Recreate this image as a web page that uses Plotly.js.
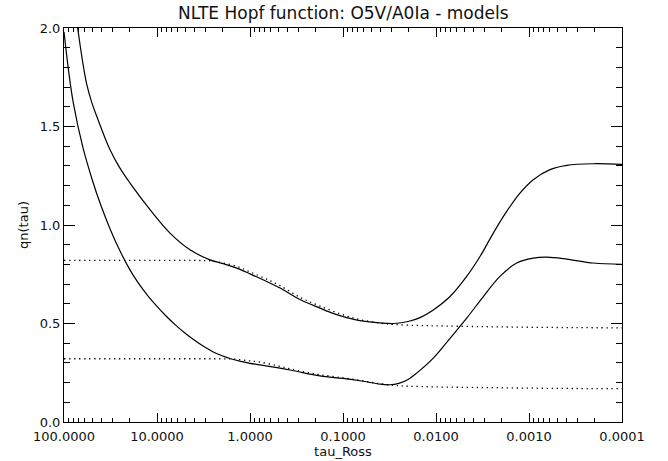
<!DOCTYPE html>
<html>
<head>
<meta charset="utf-8">
<script src="https://cdn.plot.ly/plotly-3.0.1.min.js"></script>
<style>html,body{margin:0;padding:0;background:#fff;}#chart{width:668px;height:461px;}</style>
</head>
<body>
<div id="chart"></div>
<script>
// log10(tau_Ross) and qn(tau)
const upperSolidLogTau = [1.853, 1.800, 1.756, 1.700, 1.648, 1.505, 1.400, 1.290, 1.075, 0.860, 0.645, 0.430, 0.300, 0.143, 0.000, -0.180, -0.323, -0.538, -0.753, -0.900, -1.040, -1.200, -1.398, -1.550, -1.700, -1.828, -1.971, -2.151, -2.330, -2.473, -2.616, -2.760, -2.903, -3.046, -3.226, -3.405, -3.692, -4.000];
const upperSolidQ      = [2.000, 1.830, 1.715, 1.620, 1.552, 1.382, 1.290, 1.213, 1.078, 0.959, 0.874, 0.823, 0.805, 0.781, 0.752, 0.713, 0.680, 0.622, 0.578, 0.550, 0.530, 0.513, 0.503, 0.500, 0.510, 0.530, 0.569, 0.637, 0.739, 0.840, 0.959, 1.069, 1.162, 1.230, 1.281, 1.303, 1.311, 1.308];

const lowerSolidLogTau = [2.00, 1.95, 1.90, 1.80, 1.70, 1.60, 1.50, 1.40, 1.30, 1.20, 1.10, 1.00, 0.90, 0.80, 0.70, 0.60, 0.50, 0.40, 0.30, 0.20, 0.10, 0.00, -0.108, -0.430, -0.753, -1.000, -1.200, -1.400, -1.500, -1.600, -1.700, -1.792, -1.971, -2.151, -2.330, -2.509, -2.688, -2.867, -3.046, -3.190, -3.405, -3.692, -4.000];
const lowerSolidQ      = [1.980, 1.780, 1.620, 1.400, 1.235, 1.095, 0.975, 0.870, 0.780, 0.705, 0.642, 0.587, 0.537, 0.492, 0.452, 0.416, 0.384, 0.357, 0.336, 0.320, 0.308, 0.298, 0.290, 0.264, 0.234, 0.221, 0.208, 0.192, 0.189, 0.196, 0.216, 0.248, 0.324, 0.425, 0.527, 0.637, 0.739, 0.807, 0.832, 0.837, 0.827, 0.807, 0.800];

const upperDotLogTau = [2.0, 1.5, 1.0, 0.6, 0.43, 0.30, 0.143, 0.0, -0.18, -0.323, -0.538, -0.753, -1.04, -1.2, -1.4, -1.55, -1.8, -2.0, -2.5, -3.0, -3.5, -4.0];
const upperDotQ      = [0.820, 0.820, 0.820, 0.820, 0.818, 0.808, 0.790, 0.762, 0.725, 0.692, 0.633, 0.588, 0.538, 0.518, 0.502, 0.495, 0.490, 0.488, 0.484, 0.481, 0.479, 0.478];

const lowerDotLogTau = [2.0, 1.5, 1.0, 0.5, 0.3, 0.2, 0.1, 0.0, -0.108, -0.3, -0.43, -0.6, -0.753, -1.0, -1.2, -1.4, -1.55, -1.7, -2.0, -2.5, -3.0, -3.5, -4.0];
const lowerDotQ      = [0.321, 0.321, 0.321, 0.321, 0.321, 0.320, 0.316, 0.310, 0.304, 0.285, 0.270, 0.253, 0.240, 0.224, 0.210, 0.194, 0.186, 0.182, 0.178, 0.175, 0.172, 0.170, 0.169];

const xTickVals  = [100, 10, 1, 0.1, 0.01, 0.001, 0.0001];
const xTickText  = ['100.0000', '10.0000', '1.0000', '0.1000', '0.0100', '0.0010', '0.0001'];
const xMinorDigits = [2, 3, 4, 5, 6, 7, 8, 9];
const yTickVals  = [0.0, 0.5, 1.0, 1.5, 2.0];
const yTickText  = ['0.0', '0.5', '1.0', '1.5', '2.0'];

const toTau = a => a.map(v => Math.pow(10, v));
const xMinorVals = [];
for (let e = -4; e < 2; e++) for (const d of xMinorDigits) xMinorVals.push(d * Math.pow(10, e));

const solid = {color: '#000', width: 1.2, shape: 'spline', smoothing: 1};
const dotted = {color: '#000', width: 1.3, dash: '1.3px,3.7px', shape: 'spline', smoothing: 1};

const traces = [
  {x: toTau(upperDotLogTau), y: upperDotQ, mode: 'lines', line: dotted},
  {x: toTau(lowerDotLogTau), y: lowerDotQ, mode: 'lines', line: dotted},
  {x: toTau(upperSolidLogTau), y: upperSolidQ, mode: 'lines', line: solid},
  {x: toTau(lowerSolidLogTau), y: lowerSolidQ, mode: 'lines', line: solid}
];

const font = {family: 'DejaVu Sans, sans-serif', size: 13, color: '#111'};

const layout = {
  width: 668, height: 461,
  margin: {l: 64, r: 46, t: 28, b: 39, pad: 0},
  paper_bgcolor: '#fff', plot_bgcolor: '#fff',
  showlegend: false,
  font: font,
  title: {text: 'NLTE Hopf function: O5V/A0Ia - models', x: 0.514, xanchor: 'center', y: 0.971, yanchor: 'middle', yref: 'container', font: {family: 'DejaVu Sans, sans-serif', size: 17, color: '#111'}},
  xaxis: {
    type: 'log', range: [2, -4], autorange: false,
    tickmode: 'array', tickvals: xTickVals, ticktext: xTickText,
    ticks: 'inside', ticklen: 9, tickwidth: 1, tickcolor: '#000',
    minor: {tickmode: 'array', tickvals: xMinorVals, ticks: 'inside', ticklen: 4, tickwidth: 1, tickcolor: '#000', showgrid: false},
    showline: true, linecolor: '#000', linewidth: 1, mirror: 'ticks',
    showgrid: false, zeroline: false,
    tickfont: font, ticklabelstandoff: 2,
    title: {text: 'tau_Ross', font: font, standoff: 0}
  },
  yaxis: {
    range: [0, 2], autorange: false,
    tickmode: 'array', tickvals: yTickVals, ticktext: yTickText,
    ticks: 'inside', ticklen: 11, tickwidth: 1, tickcolor: '#000',
    minor: {dtick: 0.1, ticks: 'inside', ticklen: 6, tickwidth: 1, tickcolor: '#000', showgrid: false},
    showline: true, linecolor: '#000', linewidth: 1, mirror: 'ticks',
    showgrid: false, zeroline: false,
    tickfont: font,
    title: {text: 'qn(tau)', font: font, standoff: 8}
  }
};

Plotly.newPlot('chart', traces, layout, {staticPlot: true, displayModeBar: false});
</script>
</body>
</html>
